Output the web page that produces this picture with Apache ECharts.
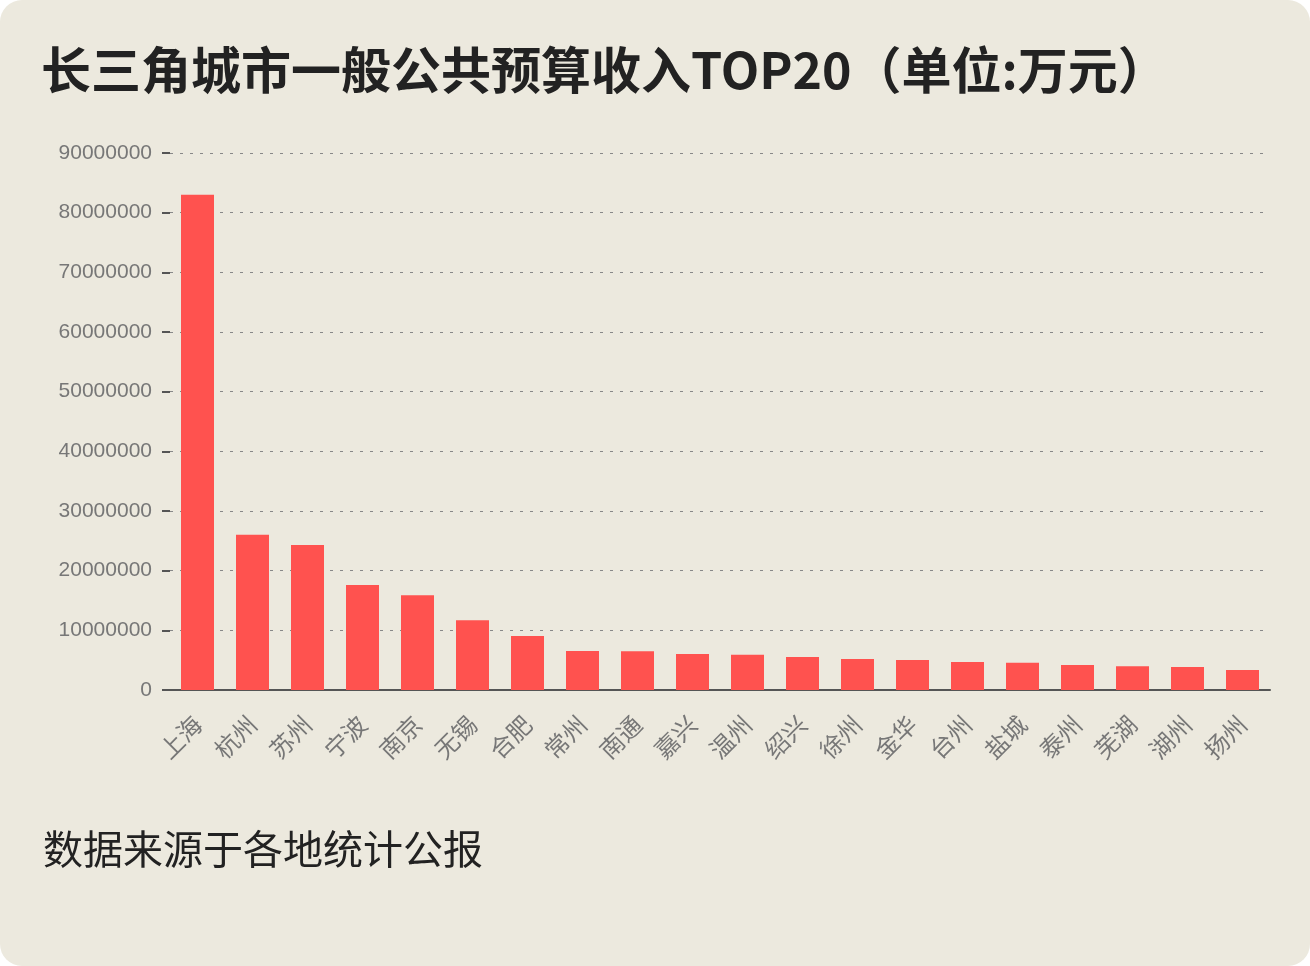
<!DOCTYPE html>
<html><head><meta charset="utf-8">
<script src="https://cdn.jsdelivr.net/npm/echarts@6/dist/echarts.min.js"></script>
<style>html,body{margin:0;padding:0;background:#fff;}
#card{position:absolute;left:0;top:0;width:1310px;height:966px;background:#ECE9DE;border-radius:22px;}
#c{width:1310px;height:966px;}</style></head>
<body><div id="card"><div id="c"></div></div>
<script>
const categories=['上海','杭州','苏州','宁波','南京','无锡','合肥','常州','南通','嘉兴','温州','绍兴','徐州','金华','台州','盐城','泰州','芜湖','湖州','扬州'];
const values=[83000000,26000000,24300000,17600000,15900000,11700000,9050000,6540000,6500000,6030000,5900000,5530000,5200000,5030000,4700000,4550000,4200000,4000000,3850000,3350000];
const chart=echarts.init(document.getElementById('c'));
chart.setOption({
 backgroundColor:'transparent',
 title:[{text:'长三角城市一般公共预算收入TOP20（单位:万元）',left:36,top:40,textStyle:{fontSize:50,fontWeight:'bold',color:'#222',fontFamily:'Noto Sans CJK SC'}},
  {text:'数据来源于各地统计公报',left:38,top:824,textStyle:{fontSize:40,fontWeight:'normal',color:'#222',fontFamily:'Noto Sans CJK SC'}}],
 grid:{left:170,right:40,top:153,bottom:276},
 xAxis:{type:'category',data:categories,
  axisLine:{lineStyle:{color:'#555',width:2}},
  axisTick:{alignWithLabel:true,length:6,lineStyle:{color:'#555',width:2}},
  axisLabel:{rotate:45,color:'#777',fontSize:24,margin:30,fontFamily:'Noto Sans CJK SC'}},
 yAxis:{type:'value',min:0,max:90000000,interval:10000000,
  axisLine:{show:false},axisTick:{show:true,length:8,lineStyle:{color:'#555',width:2}},
  axisLabel:{color:'#777',fontSize:21,margin:18,formatter:v=>String(v)},
  splitLine:{lineStyle:{type:[3,7],color:'#888',width:1}}},
 series:[{type:'bar',data:values,barWidth:33,itemStyle:{color:'#FF524F'}}]
});
</script></body></html>
